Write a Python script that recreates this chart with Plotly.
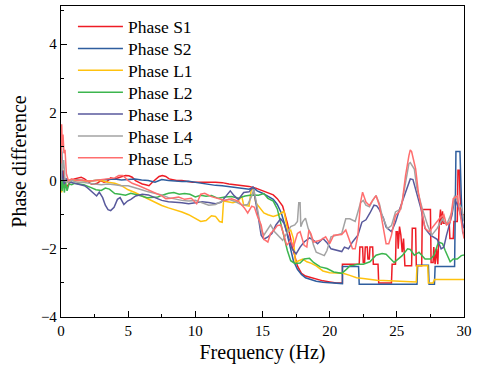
import plotly.graph_objects as go

# ---------------- data (frequency Hz, phase difference) ----------------
names = ["Phase S1", "Phase S2", "Phase L1", "Phase L2", "Phase L3", "Phase L4", "Phase L5"]
colors = ["#ee1c25", "#2f5e9e", "#ffc20e", "#3cb54e", "#58599c", "#a3a3a3", "#ff6e6e"]

phase_s1 = [(0, 0), (0.1, -0.05), (0.2, 0.3), (0.3, -0.15), (0.4, -0.2), (0.55, -0.1), (0.75, 0.0),
            (1.0, 0.05), (1.25, 0.08), (1.5, 0.1), (1.75, 0.05), (2.0, -0.02), (2.25, -0.1), (2.5, -0.1),
            (2.7, -0.08), (2.95, 0.0), (3.2, -0.05), (3.45, -0.02), (3.7, 0.08), (4.0, 0.05), (4.3, 0.1),
            (4.55, 0.12), (4.8, 0.15), (5.05, 0.14), (5.3, 0.1), (5.55, 0.0), (5.8, -0.05), (6.05, -0.1),
            (6.3, -0.12), (6.55, -0.15), (6.8, -0.05), (7.05, 0.05), (7.3, 0.12), (7.55, 0.15), (7.8, 0.12),
            (8.05, 0.05), (8.3, 0.02), (8.6, 0.0), (9.0, 0.0), (9.4, -0.03), (9.8, -0.05), (10.2, -0.05),
            (10.6, -0.04), (11.0, -0.05), (11.5, -0.05), (12.0, -0.06), (12.5, -0.1), (13.0, -0.12),
            (13.5, -0.15), (14.0, -0.17), (14.5, -0.22), (15.0, -0.3), (15.4, -0.36), (15.8, -0.42),
            (16.1, -0.53), (16.5, -0.75), (16.85, -1.25), (17.2, -1.9), (17.6, -2.5), (17.9, -2.72),
            (18.2, -2.8), (18.6, -2.85), (19.0, -2.9), (19.5, -2.94), (20.0, -2.97), (20.5, -3.0),
            (20.95, -3.0), (20.95, -2.45), (22.2, -2.45), (22.25, -1.95), (22.45, -1.95), (22.5, -2.4),
            (22.6, -2.4), (22.65, -1.95), (22.8, -1.95), (22.85, -2.3), (22.95, -2.3), (23.0, -1.95),
            (23.2, -1.95), (23.25, -2.45), (23.6, -2.45), (23.65, -3.0), (24.6, -3.0), (24.65, -2.45),
            (24.9, -2.45), (24.95, -1.5), (25.05, -1.5), (25.1, -2.0), (25.2, -1.35), (25.3, -1.6),
            (25.4, -2.1), (25.5, -1.7), (25.6, -2.5), (26.1, -2.5), (26.15, -1.4), (26.4, -1.4),
            (26.45, -2.5), (26.85, -2.5), (26.9, -0.85), (27.5, -0.85), (27.55, -2.4), (27.7, -2.4),
            (27.75, -1.95), (27.85, -2.45), (27.95, -2.0), (28.05, -2.45), (28.15, -1.3), (28.25, -0.85),
            (28.3, -1.3), (28.4, -0.9), (28.45, -1.25), (28.9, -1.25), (28.95, -1.7), (29.2, -1.7),
            (29.25, -1.2), (29.5, -1.2), (29.55, 0.3), (29.65, 0.3), (29.7, -0.4), (29.8, -1.0), (30, -1.0)]

phase_s2 = [(0, 0), (0.05, 0.85), (0.1, 0.2), (0.2, -0.1), (0.35, 0.05), (0.5, -0.05), (0.8, 0.0),
            (1.2, 0.02), (1.6, 0.0), (2.0, -0.02), (2.5, 0.0), (3.0, 0.02), (3.5, 0.03), (4.0, 0.05),
            (4.5, 0.02), (5.0, 0.03), (5.5, 0.05), (6.0, 0.02), (6.5, 0.0), (7.0, -0.05), (7.5, 0.03),
            (8.0, 0.0), (8.5, -0.02), (9.0, -0.03), (9.5, -0.02), (10.0, -0.05), (10.5, -0.08),
            (11.0, -0.12), (11.5, -0.14), (12.0, -0.15), (12.5, -0.17), (13.0, -0.2), (13.5, -0.22),
            (14.0, -0.25), (14.3, -0.2), (14.6, -0.3), (15.0, -0.37), (15.4, -0.45), (15.8, -0.55),
            (16.1, -0.7), (16.4, -0.95), (16.7, -1.35), (17.0, -1.9), (17.3, -2.35), (17.6, -2.6),
            (17.9, -2.75), (18.2, -2.85), (18.6, -2.9), (19.0, -2.95), (19.5, -2.98), (20.0, -3.0),
            (20.5, -3.02), (20.95, -3.02), (20.95, -2.52), (22.15, -2.52), (22.2, -3.04), (26.5, -3.04),
            (26.55, -2.48), (27.35, -2.48), (27.4, -3.04), (27.8, -3.04), (27.85, -2.52), (29.3, -2.52),
            (29.4, 0.85), (29.7, 0.85), (29.8, -0.5), (29.9, -1.5), (30, -1.6)]

phase_l1 = [(0, -0.1), (0.05, -0.35), (0.12, 0.05), (0.2, -0.1), (0.3, 0.0), (0.45, -0.05), (0.7, 0.02),
            (1.0, 0.0), (1.5, 0.0), (2.0, -0.02), (2.5, 0.0), (3.0, 0.0), (3.5, -0.05), (4.0, -0.08),
            (4.5, -0.15), (5.0, -0.27), (5.5, -0.35), (6.0, -0.45), (6.5, -0.53), (7.0, -0.63),
            (7.5, -0.73), (8.0, -0.8), (8.5, -0.85), (9.0, -0.92), (9.5, -1.0), (10.0, -1.1), (10.4, -1.2),
            (10.8, -1.17), (11.2, -1.03), (11.5, -1.05), (11.8, -1.2), (12.0, -1.22), (12.1, -0.6),
            (12.4, -0.62), (12.8, -0.65), (13.2, -0.6), (13.45, -0.45), (13.6, -0.72), (14.0, -0.75),
            (14.15, -0.3), (14.3, -0.2), (14.5, -0.65), (14.8, -0.8), (15.1, -0.95), (15.4, -1.0),
            (15.8, -1.05), (16.2, -1.0), (16.6, -0.9), (16.9, -1.5), (17.1, -1.45), (17.3, -1.7),
            (17.45, -2.4), (17.7, -2.35), (18.0, -2.3), (18.3, -2.38), (18.6, -2.42), (19.0, -2.5),
            (19.5, -2.65), (20.0, -2.7), (20.5, -2.7), (21.0, -2.72), (21.5, -2.78), (22.0, -2.85),
            (22.5, -2.87), (23.0, -2.9), (23.5, -2.92), (24.0, -2.93), (24.5, -2.94), (25.0, -2.95),
            (25.5, -2.95), (26.0, -2.96), (26.45, -2.97), (26.5, -2.5), (27.3, -2.5), (27.35, -3.0),
            (27.7, -3.0), (27.8, -2.9), (28.5, -2.9), (29.0, -2.92), (29.5, -2.9), (30, -2.9)]

phase_l2 = [(0, 0), (0.08, -0.3), (0.15, 0.05), (0.25, -0.35), (0.35, -0.05), (0.45, -0.3), (0.6, -0.1),
            (0.8, -0.12), (1.0, -0.08), (1.3, -0.1), (1.7, -0.12), (2.2, -0.2), (2.6, -0.27), (3.0, -0.29),
            (3.3, -0.22), (3.6, -0.25), (4.0, -0.38), (4.4, -0.4), (4.8, -0.43), (5.2, -0.37), (5.6, -0.4),
            (6.0, -0.45), (6.4, -0.5), (6.8, -0.5), (7.2, -0.48), (7.6, -0.42), (8.0, -0.37), (8.4, -0.35),
            (8.8, -0.4), (9.2, -0.38), (9.6, -0.4), (10.0, -0.48), (10.4, -0.43), (10.8, -0.46),
            (11.2, -0.44), (11.7, -0.52), (12.2, -0.48), (12.7, -0.47), (13.2, -0.52), (13.7, -0.45),
            (14.2, -0.42), (14.7, -0.43), (15.1, -0.38), (15.4, -0.52), (15.8, -0.6), (16.1, -0.83),
            (16.35, -1.22), (16.6, -1.6), (16.85, -2.05), (17.1, -2.35), (17.4, -2.43), (17.8, -2.42),
            (18.1, -2.3), (18.5, -2.28), (18.8, -2.4), (19.3, -2.53), (19.8, -2.58), (20.3, -2.68),
            (20.9, -2.72), (21.2, -2.62), (21.5, -2.5), (21.8, -2.48), (22.1, -2.45), (22.5, -2.45),
            (23.0, -2.38), (23.45, -2.19), (23.9, -2.14), (24.2, -2.16), (24.4, -2.25), (24.8, -2.4),
            (25.4, -2.2), (25.8, -2.0), (26.0, -2.02), (26.3, -2.19), (26.65, -2.1), (27.1, -2.3),
            (27.5, -2.3), (27.75, -2.2), (28.1, -1.8), (28.4, -1.85), (28.6, -2.05), (28.97, -2.38),
            (29.2, -2.3), (29.5, -2.3), (29.8, -2.2), (30.0, -2.18)]

phase_l3 = [(0, 0), (0.05, 0.7), (0.12, 0.1), (0.25, -0.1), (0.4, 0.05), (0.7, -0.05), (1.0, -0.08),
            (1.25, -0.1), (1.5, -0.12), (1.75, -0.15), (2.0, -0.22), (2.23, -0.3), (2.5, -0.4), (2.65, -0.45),
            (2.85, -0.34), (3.1, -0.5), (3.3, -0.72), (3.5, -0.85), (3.7, -0.88), (3.95, -0.78), (4.2, -0.55),
            (4.4, -0.5), (4.68, -0.7), (4.95, -0.6), (5.2, -0.55), (5.56, -0.45), (6.05, -0.4), (6.5, -0.42),
            (7.0, -0.5), (7.5, -0.58), (8.0, -0.62), (8.5, -0.63), (9.0, -0.65), (9.5, -0.68), (10.0, -0.66),
            (10.5, -0.62), (11.0, -0.64), (11.5, -0.68), (11.9, -0.64), (12.3, -0.45), (12.6, -0.3),
            (12.9, -0.45), (13.2, -0.55), (13.6, -0.35), (14.0, -0.33), (14.3, -0.18), (14.5, -0.6),
            (14.7, -1.1), (14.9, -1.6), (15.1, -1.72), (15.4, -1.65), (15.7, -1.55), (16.0, -1.3),
            (16.35, -1.12), (16.6, -1.25), (16.9, -1.65), (17.2, -2.0), (17.5, -2.15), (17.8, -1.95),
            (18.1, -1.8), (18.5, -1.68), (18.8, -1.75), (19.1, -1.85), (19.5, -1.7), (19.8, -1.82),
            (20.1, -2.0), (20.5, -2.05), (20.9, -2.08), (21.1, -1.95), (21.4, -2.0), (21.7, -1.8),
            (22.1, -1.6), (22.4, -1.22), (22.7, -1.15), (23.0, -0.95), (23.3, -0.72), (23.5, -0.74),
            (23.7, -0.85), (24.0, -1.1), (24.2, -1.36), (24.6, -1.5), (24.9, -1.22), (25.2, -0.85),
            (25.4, -0.63), (25.8, -0.19), (26.0, 0.05), (26.2, 0.03), (26.4, -0.24), (26.8, -0.83),
            (27.1, -1.4), (27.5, -1.6), (28.0, -1.72), (28.3, -2.0), (28.5, -1.95), (28.7, -1.6),
            (29.1, -1.02), (29.3, -0.53), (29.6, -0.8), (29.9, -1.22), (30, -1.4)]

phase_l4 = [(0, 0), (0.05, 1.0), (0.1, 0.3), (0.2, 0.6), (0.3, 0.0), (0.5, -0.05), (0.8, 0.0), (1.2, -0.05),
            (1.6, -0.05), (2.0, -0.08), (2.5, -0.1), (3.0, -0.12), (3.5, -0.1), (4.0, -0.12), (4.5, -0.15),
            (5.0, -0.15), (5.5, -0.2), (6.0, -0.27), (6.5, -0.33), (7.0, -0.38), (7.5, -0.42), (8.0, -0.5),
            (8.5, -0.55), (9.0, -0.58), (9.5, -0.6), (10.0, -0.58), (10.5, -0.65), (11.0, -0.72),
            (11.5, -0.7), (12.0, -0.6), (12.5, -0.55), (13.0, -0.62), (13.5, -0.72), (13.9, -0.7),
            (14.2, -0.45), (14.35, -0.25), (14.5, -0.55), (14.7, -1.0), (14.9, -1.45), (15.1, -1.6),
            (15.4, -1.4), (15.6, -1.3), (15.9, -1.5), (16.2, -1.62), (16.5, -1.75), (16.8, -1.55),
            (17.1, -1.35), (17.4, -1.3), (17.6, -1.2), (17.7, -0.65), (17.8, -0.65), (17.85, -1.35),
            (18.0, -1.2), (18.2, -1.1), (18.4, -1.4), (18.6, -1.6), (18.8, -1.9), (19.0, -2.1),
            (19.3, -2.15), (19.6, -2.2), (19.8, -2.05), (20.1, -1.65), (20.5, -1.6), (20.9, -1.55),
            (21.2, -1.12), (21.5, -1.12), (21.9, -1.2), (22.1, -0.95), (22.3, -0.65), (22.5, -0.58),
            (22.7, -0.72), (22.96, -0.77), (23.2, -0.58), (23.45, -0.44), (23.7, -0.68), (23.9, -1.02),
            (24.3, -1.41), (24.6, -1.32), (24.9, -0.92), (25.3, -0.83), (25.65, -0.05), (25.9, 0.5),
            (26.0, 0.53), (26.3, 0.34), (26.5, -0.24), (26.9, -0.83), (27.3, -1.32), (27.6, -1.6),
            (28.0, -1.4), (28.4, -1.12), (28.7, -1.3), (29.1, -0.92), (29.3, -0.44), (29.6, -0.63),
            (29.85, -0.83), (30, -1.2)]

phase_l5 = [(0, 0.5), (0.05, 1.65), (0.1, 1.0), (0.15, 1.35), (0.22, 0.8), (0.3, 0.9), (0.4, 0.2),
            (0.55, 0.0), (0.8, 0.05), (1.2, 0.0), (1.6, 0.02), (2.0, -0.02), (2.5, 0.0), (3.0, 0.02),
            (3.5, 0.05), (4.0, 0.08), (4.3, 0.15), (4.6, 0.15), (5.0, 0.0), (5.3, -0.08), (5.8, -0.15),
            (6.5, -0.28), (7.0, -0.35), (7.5, -0.45), (7.8, -0.53), (8.2, -0.52), (8.75, -0.48),
            (9.2, -0.55), (9.7, -0.52), (10.1, -0.68), (10.4, -0.4), (10.7, -0.37), (11.2, -0.47),
            (11.7, -0.52), (12.2, -0.58), (12.7, -0.53), (13.2, -0.6), (13.65, -0.8), (13.9, -0.95),
            (14.2, -0.75), (14.4, -0.78), (14.6, -1.02), (14.9, -1.3), (15.1, -1.72), (15.4, -1.8),
            (15.6, -1.55), (15.86, -1.45), (16.1, -1.32), (16.35, -1.3), (16.6, -1.6), (16.8, -1.9),
            (17.1, -1.75), (17.3, -1.95), (17.6, -1.55), (17.8, -1.5), (18.1, -1.9), (18.3, -1.95),
            (18.45, -1.45), (18.6, -1.55), (18.8, -1.8), (19.3, -1.75), (19.7, -1.65), (20.0, -1.85),
            (20.3, -1.6), (20.9, -1.58), (21.2, -1.45), (21.5, -1.8), (21.7, -2.0), (21.9, -2.0),
            (22.1, -1.6), (22.3, -0.63), (22.45, -0.34), (22.7, -0.63), (22.96, -0.73), (23.2, -0.58),
            (23.45, -0.44), (23.7, -0.73), (23.9, -1.2), (24.2, -1.85), (24.4, -1.85), (24.6, -1.6),
            (24.9, -1.02), (25.2, -0.9), (25.4, -0.63), (25.65, 0.15), (25.9, 0.73), (26.0, 0.9),
            (26.1, 0.85), (26.4, 0.34), (26.6, -0.34), (26.9, -1.02), (27.1, -1.4), (27.4, -1.5),
            (27.6, -1.4), (28.0, -1.22), (28.2, -1.1), (28.5, -1.0), (28.7, -1.3), (28.97, -1.22),
            (29.2, -0.53), (29.5, -0.45), (29.7, -0.95), (29.9, -1.5), (30, -1.7)]

series = [phase_s1, phase_s2, phase_l1, phase_l2, phase_l3, phase_l4, phase_l5]

x_ticks = [0, 5, 10, 15, 20, 25, 30]
y_ticks = [-4, -2, 0, 2, 4]

# ---------------- figure ----------------
FONT = "Liberation Serif, Times New Roman, serif"
W, H = 477, 374
ml, mr, mt, mb = 61, 8, 5, 57
plot_h = H - mt - mb
plot_w = W - ml - mr

fig = go.Figure()
legend_centers_px = [25.7 + 21.95 * i for i in range(7)]
layout_legends = {}
for i, (name, col, data) in enumerate(zip(names, colors, series)):
    xs = [p[0] for p in data]
    ys = [p[1] for p in data]
    lname = "legend" if i == 0 else f"legend{i+1}"
    fig.add_trace(go.Scatter(x=xs, y=ys, mode="lines", name=name, showlegend=True,
                             line=dict(color=col, width=1.5), legend=lname))
    ypaper = (H - mb - legend_centers_px[i]) / plot_h
    layout_legends[lname] = dict(x=0.01 + 8 / plot_w, y=ypaper, xanchor="left", yanchor="middle",
                                 bgcolor="rgba(0,0,0,0)", borderwidth=0,
                                 font=dict(family=FONT, size=17.5, color="black"),
                                 itemwidth=45)

fig.update_layout(
    width=W, height=H,
    margin=dict(l=ml, r=mr, t=mt, b=mb),
    paper_bgcolor="white", plot_bgcolor="white",
    font=dict(family=FONT, color="black"),
    showlegend=True,
    **layout_legends,
)
fig.update_xaxes(range=[0, 30], tickvals=x_ticks, ticks="inside", ticklen=6, tickwidth=1,
                 tickcolor="black", showline=True, linecolor="black", linewidth=1.3, mirror=True,
                 showgrid=False, zeroline=False,
                 minor=dict(dtick=2.5, ticks="inside", ticklen=3, tickcolor="black", showgrid=False),
                 tickfont=dict(family=FONT, size=15, color="black"),
                 title=dict(text="Frequency (Hz)", font=dict(family=FONT, size=20, color="black"), standoff=6))
fig.update_yaxes(range=[-4, 5.12], tickvals=y_ticks, ticks="inside", ticklen=6, tickwidth=1,
                 tickcolor="black", showline=True, linecolor="black", linewidth=1.3, mirror=True,
                 showgrid=False, zeroline=False,
                 minor=dict(dtick=1, ticks="inside", ticklen=3, tickcolor="black", showgrid=False),
                 tickfont=dict(family=FONT, size=15, color="black"),
                 title=dict(text="Phase difference", font=dict(family=FONT, size=20, color="black"), standoff=8))

fig.write_html("out.html")
